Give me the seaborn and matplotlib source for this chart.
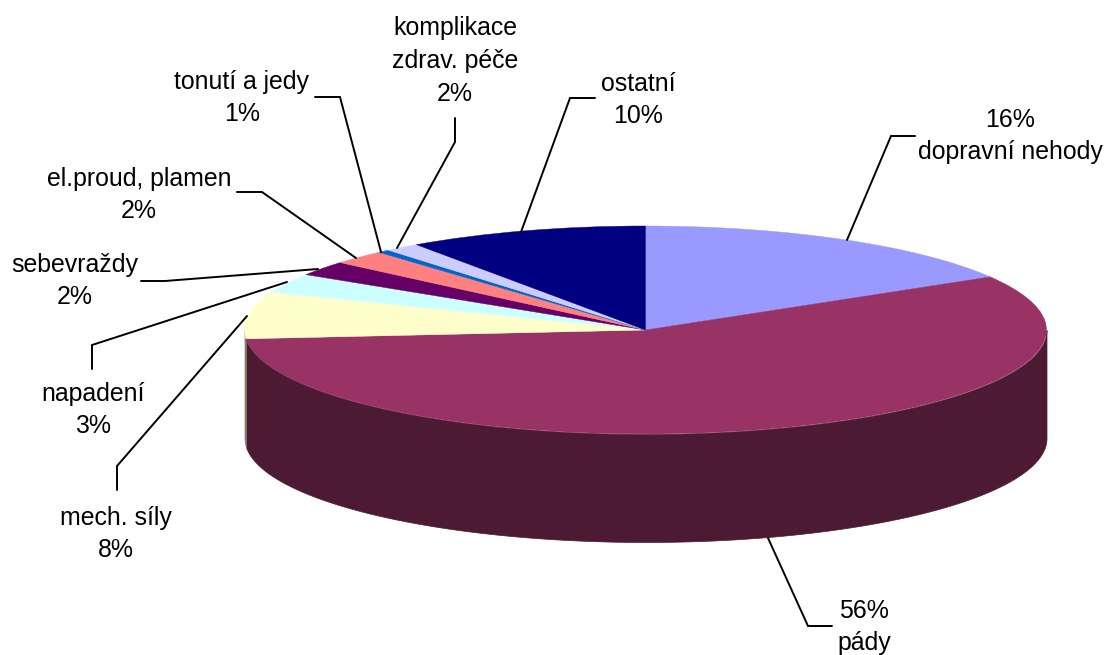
import matplotlib
matplotlib.use("Agg")
import matplotlib.pyplot as plt
import numpy as np
import seaborn as sns

# values in pie order (clockwise from the top)
categories = ["dopravní nehody", "pády", "mech. síly", "napadení", "sebevraždy",
              "el.proud, plamen", "tonutí a jedy", "komplikace\nzdrav. péče", "ostatní"]
values = [16.5, 57.3, 7.3, 3.0, 2.3, 2.2, 0.5, 1.4, 9.7]
percent_labels = ["16%", "56%", "8%", "3%", "2%", "2%", "1%", "2%", "10%"]
colors = ["#9999FF", "#993366", "#FFFFCC", "#CCFFFF", "#660066",
          "#FF8080", "#0066CC", "#CCCCFF", "#000080"]

sns.set_theme(style="white")
plt.rcParams["font.family"] = ["Liberation Sans", "DejaVu Sans"]

W, H = 1107, 655
cx, cy, rx, ry, depth = 645.5, 330, 401, 104, 108

fig = plt.figure(figsize=(W / 100, H / 100), dpi=100)
ax = fig.add_axes([0, 0, 1, 1])
palette = sns.color_palette(colors)


def darker(c):
    return tuple(v * 0.5 for v in c)


# side wall first, only the front half of the disc shows
edges = np.concatenate([[0], np.cumsum(values)]) / np.sum(values) * 360
for i, c in enumerate(palette):
    a0 = max(edges[i], 90)
    a1 = min(edges[i + 1], 270)
    if a1 <= a0:
        continue
    t = np.radians(np.linspace(a0, a1, 200))
    ax.fill_between(np.sin(t), np.cos(t), np.cos(t) - depth / ry,
                    color=darker(c), linewidth=0.5, zorder=1)

wedges, _ = ax.pie(values, colors=palette, startangle=90, counterclock=False, radius=1,
                   wedgeprops={"linewidth": 0})
for w in wedges:
    w.set_zorder(2)
    w.set_edgecolor(w.get_facecolor())
    w.set_linewidth(0.3)
ax.set_aspect("auto")
ax.set_xlim(-cx / rx, (W - cx) / rx)
ax.set_ylim((cy - H) / ry, cy / ry)
ax.axis("off")

# labels and leader lines, overlay axes in pixels
ov = fig.add_axes([0, 0, 1, 1])
ov.set_xlim(0, W)
ov.set_ylim(H, 0)
ov.axis("off")
ov.patch.set_alpha(0)

label_pos = [(1010, 136), (864, 627), (116, 534), (93, 410), (75, 281),
             (139, 195), (242, 98), (455, 61), (638, 100)]
leaders = [
    [(847, 240), (891, 136), (915, 136)],
    [(768, 538), (808, 626), (832, 626)],
    [(247, 316), (117, 466), (117, 490)],
    [(287, 282), (92, 345), (92, 369)],
    [(318, 269), (165, 281), (141, 281)],
    [(356, 258), (262, 192), (237, 192)],
    [(381, 252), (340, 97), (315, 97)],
    [(397, 248), (455, 142), (455, 118)],
    [(521, 232), (570, 98), (595, 98)],
]
percent_first = [True, True, False, False, False, False, False, False, False]

for i, name in enumerate(categories):
    txt = percent_labels[i] + "\n" + name if percent_first[i] else name + "\n" + percent_labels[i]
    ov.text(label_pos[i][0], label_pos[i][1], txt, ha="center", va="center",
            fontsize=17.9, linespacing=1.47, color="black")
    pts = np.array(leaders[i])
    ov.plot(pts[:, 0], pts[:, 1], color="black", lw=1.4, solid_joinstyle="miter")

fig.savefig("out.png", dpi=100, facecolor="white")
